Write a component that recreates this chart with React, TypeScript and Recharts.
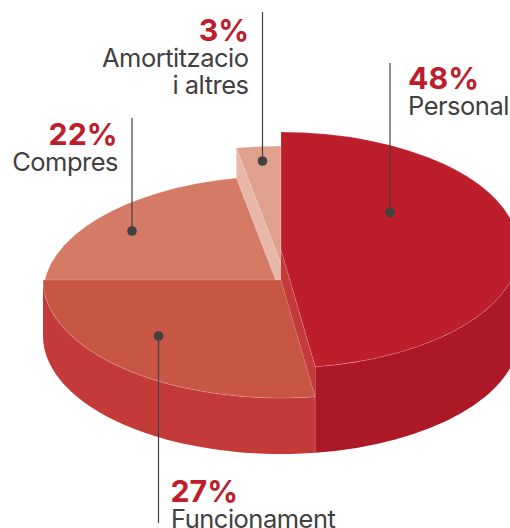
import { PieChart, Pie } from 'recharts';

// paint order runs back to front, so the list starts with the slices behind
const categories = ['Amortitzacio i altres', 'Compres', 'Funcionament', 'Personal'];
// slice sizes as drawn in the picture, the labels show them rounded
const shares = [3, 22, 27.3, 47.7];
const labelLines = [['Amortitzacio', 'i altres'], ['Compres'], ['Funcionament'], ['Personal']];

const chartData = categories.map((name, i) => ({ name, value: shares[i] }));

const CX = 281;
const CY = 250;
const RX = 238;
const RY = 118;
const FLOOR = 336;

// how each slice sits in the fake 3d stack
const layers = [
  { lift: 14, face: '#E0A08E', wall: '#E0A08E', cut: '#E9B7A8', cutEdge: 'end', cutDepth: 30 },
  { lift: 44, face: '#D57A65', wall: '#D57A65', cut: null, cutEdge: null, cutDepth: 0 },
  { lift: 30, face: '#C75645', wall: '#C43A38', cut: null, cutEdge: null, cutDepth: 0 },
  { lift: 0, face: '#BD1E2C', wall: '#AC1825', cut: '#C43A38', cutEdge: 'start', cutDepth: 30 },
];

const callouts = [
  { anchor: 'end', x: 248.5, pctX: 249, y: 41, lineX: 262.5, from: 12, to: 161 },
  { anchor: 'end', x: 118, pctX: 117.5, y: 145, lineX: 132, from: 118, to: 231 },
  { anchor: 'start', x: 171, pctX: 170.5, y: 502, lineX: 158.5, from: 523, to: 336 },
  { anchor: 'start', x: 408, pctX: 408, y: 89, lineX: 390, from: 63, to: 212.5 },
];

const rad = (deg: number) => (deg * Math.PI) / 180;
const px = (deg: number) => CX + RX * Math.cos(rad(deg));
const py = (deg: number, cy: number) => cy - RY * Math.sin(rad(deg));

function Slice(props: any) {
  const { startAngle, endAngle, index } = props;
  const layer = layers[index];
  const cy = CY + layer.lift;
  const large = endAngle - startAngle > 180 ? 1 : 0;

  const face = `M${CX},${cy} L${px(startAngle)},${py(startAngle, cy)} A${RX},${RY} 0 ${large} 0 ${px(endAngle)},${py(endAngle, cy)} Z`;

  // only the lower half of the rim can be seen
  const a0 = Math.max(startAngle, 180);
  const a1 = Math.min(endAngle, 360);
  const hasWall = index >= 2 && a1 > a0;
  const wall = `M${px(a0)},${py(a0, cy)} A${RX},${RY} 0 0 0 ${px(a1)},${py(a1, cy)} L${px(a1)},${py(a1, FLOOR)} A${RX},${RY} 0 0 1 ${px(a0)},${py(a0, FLOOR)} Z`;

  const cutAngle = layer.cutEdge === 'start' ? startAngle : endAngle;
  const d = layer.cutDepth;
  const cut = `M${CX},${cy} L${px(cutAngle)},${py(cutAngle, cy)} L${px(cutAngle)},${py(cutAngle, cy) + d} L${CX},${cy + d} Z`;

  return (
    <g>
      {hasWall && <path d={wall} fill={layer.wall} />}
      {hasWall && a1 < 360 && (
        <line x1={px(a1)} y1={py(a1, cy)} x2={px(a1)} y2={py(a1, FLOOR)} stroke="rgba(255,255,255,0.35)" strokeWidth={0.7} />
      )}
      {layer.cut && <path d={cut} fill={layer.cut} />}
      <path d={face} fill={layer.face} stroke="rgba(255,255,255,0.3)" strokeWidth={0.6} />
    </g>
  );
}

function Callout(props: any) {
  const { index } = props;
  const c = callouts[index];
  const name = labelLines[index];
  return (
    <g>
      <line x1={c.lineX} y1={c.from} x2={c.lineX} y2={c.to} stroke="#414042" strokeWidth={1.2} />
      <circle cx={c.lineX} cy={c.to} r={4.8} fill="#414042" />
      <text x={c.pctX} y={c.y} textAnchor={c.anchor} fontFamily="Inter" fontWeight={700} fontSize={30.3} fill="#BD1E2C">
        {Math.round(shares[index])}%
      </text>
      {name.map((line, i) => (
        <text key={line} x={c.x} y={c.y + 26 + i * 27} textAnchor={c.anchor} fontFamily="Inter" fontSize={25.5} letterSpacing={-0.5} fill="#414042">
          {line}
        </text>
      ))}
    </g>
  );
}

export default function App() {
  return (
    <div style={{ position: 'absolute', left: 0, top: 0, width: 510, height: 528 }}>
      <PieChart width={510} height={528} margin={{ top: 0, right: 0, bottom: 0, left: 0 }}>
        <Pie
          data={chartData}
          dataKey="value"
          nameKey="name"
          cx={CX}
          cy={CY}
          outerRadius={RX}
          startAngle={90}
          endAngle={450}
          shape={Slice}
          label={Callout}
          labelLine={false}
          isAnimationActive={false}
        />
      </PieChart>
    </div>
  );
}
